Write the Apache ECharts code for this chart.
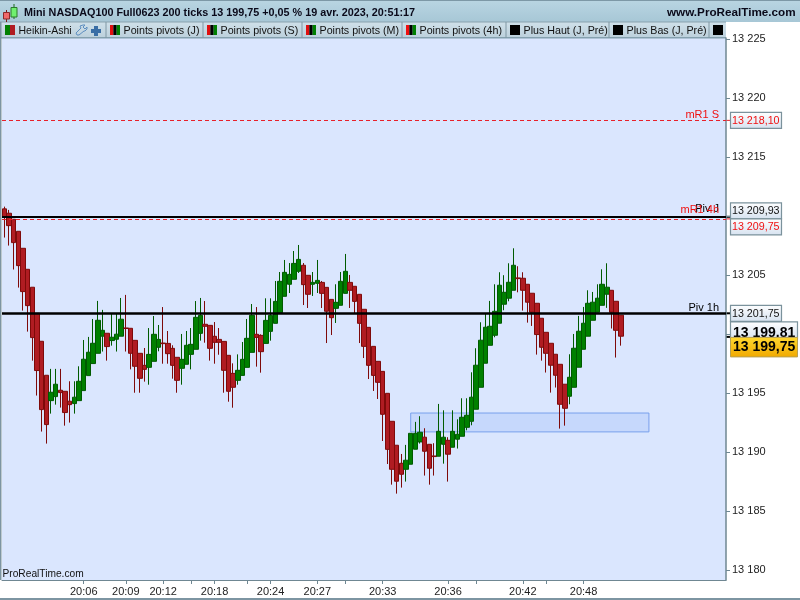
<!DOCTYPE html>
<html><head><meta charset="utf-8">
<style>html,body{margin:0;padding:0;background:#fff}#c{width:800px;height:600px}</style>
<script src="https://cdn.jsdelivr.net/npm/echarts@6/dist/echarts.min.js"></script>
</head><body><div id="c"></div>
<script>
const opens=[13210.60,13210.23,13209.72,13208.70,13207.26,13205.48,13203.96,13201.75,13199.38,13196.50,
13194.35,13194.69,13195.23,13195.14,13194.30,13194.10,13194.35,13195.20,13196.47,13197.49,
13198.36,13199.81,13200.06,13199.44,13199.55,13199.81,13200.51,13200.48,13199.46,13198.36,
13197.34,13197.17,13197.68,13198.87,13199.23,13199.20,13198.78,13198.02,13197.09,13197.43,
13198.27,13198.70,13200.05,13200.82,13200.73,13199.80,13199.54,13199.37,13198.19,13196.66,
13196.07,13196.49,13197.17,13198.44,13199.97,13199.88,13199.20,13200.22,13200.90,13201.80,
13203.19,13204.21,13204.63,13205.31,13205.82,13204.97,13204.21,13204.29,13204.37,13203.95,
13202.93,13202.17,13202.43,13203.44,13204.37,13204.04,13203.36,13202.09,13200.56,13198.95,
13197.68,13196.83,13194.97,13192.60,13190.57,13189.04,13188.53,13188.96,13190.23,13190.85,
13191.25,13190.65,13189.66,13189.64,13190.65,13190.99,13190.40,13191.08,13191.33,13192.09,
13192.60,13193.62,13195.48,13197.52,13199.04,13199.89,13200.91,13202.52,13203.03,13203.70,
13204.75,13204.72,13204.21,13203.45,13202.60,13201.33,13200.14,13199.21,13198.28,13197.43,
13195.74,13194.72,13195.48,13197.18,13198.70,13199.81,13201.16,13201.84,13202.43,13203.37,
13203.70,13202.77,13201.59];
const closes=[13209.95,13209.18,13207.74,13205.79,13203.59,13202.40,13199.69,13196.90,13193.59,13192.32,
13195.06,13195.74,13195.03,13193.34,13194.01,13194.64,13195.99,13197.86,13198.45,13199.21,
13201.16,13200.31,13198.93,13199.72,13199.98,13201.25,13200.46,13198.36,13197.26,13196.24,
13197.00,13198.27,13199.97,13199.54,13199.18,13198.33,13197.34,13196.07,13197.85,13199.04,
13199.12,13201.41,13201.58,13200.65,13198.78,13199.29,13199.29,13196.92,13195.14,13195.48,
13196.92,13197.85,13199.63,13201.58,13199.71,13198.50,13201.15,13201.58,13202.76,13204.46,
13205.22,13205.05,13205.98,13206.32,13204.18,13203.36,13204.37,13204.54,13203.44,13201.92,
13201.38,13202.68,13204.46,13205.31,13203.70,13202.76,13200.90,13198.95,13197.34,13196.49,
13195.90,13193.19,13190.22,13188.53,13187.52,13188.11,13189.30,13191.58,13191.58,13191.67,
13190.06,13188.62,13189.61,13191.75,13191.25,13189.81,13191.75,13191.50,13192.94,13193.11,
13194.64,13197.35,13199.47,13200.57,13200.65,13201.92,13204.13,13203.53,13204.38,13205.82,
13204.69,13203.70,13202.69,13201.84,13199.95,13198.87,13198.36,13197.35,13196.50,13194.04,
13193.70,13196.33,13198.79,13200.23,13200.91,13202.60,13202.69,13203.03,13204.21,13203.96,
13201.84,13200.31,13199.81];
const lows=[13208.17,13207.49,13205.46,13203.93,13201.98,13200.20,13197.74,13194.78,13191.73,13190.71,
13193.25,13194.01,13193.76,13192.23,13192.49,13193.25,13194.35,13195.20,13196.47,13197.49,
13198.36,13198.51,13197.74,13199.01,13198.51,13199.81,13198.51,13197.00,13195.02,13195.02,
13195.96,13195.70,13197.68,13198.53,13197.48,13197.48,13196.21,13195.02,13195.70,13197.43,
13197.00,13198.70,13199.43,13199.26,13197.74,13197.48,13198.24,13195.02,13194.26,13193.75,
13195.70,13196.49,13197.17,13198.44,13197.23,13196.72,13199.20,13199.43,13200.90,13201.80,
13203.19,13203.47,13204.63,13205.17,13202.45,13202.20,13203.22,13203.47,13202.20,13199.23,
13199.91,13200.93,13202.43,13203.44,13202.20,13201.75,13199.23,13197.96,13196.18,13195.17,
13194.49,13190.93,13188.98,13187.23,13186.47,13186.98,13187.49,13188.96,13190.23,13190.71,
13188.00,13187.23,13188.00,13189.64,13189.01,13187.49,13190.40,13190.29,13191.33,13191.84,
13192.26,13193.62,13195.48,13197.52,13199.04,13199.72,13200.91,13202.01,13202.77,13203.70,
13203.53,13201.98,13200.96,13200.68,13198.25,13197.74,13196.73,13195.03,13195.46,13191.98,
13192.23,13194.04,13195.48,13197.18,13198.70,13199.81,13201.16,13201.84,13202.43,13202.21,
13200.46,13198.00,13199.01];
const highs=[13210.79,13210.51,13209.72,13208.70,13207.26,13205.48,13203.96,13201.75,13199.38,13196.50,
13197.04,13197.04,13197.04,13195.14,13195.99,13195.99,13197.26,13199.49,13199.75,13201.27,
13202.80,13202.04,13200.06,13201.75,13201.75,13203.05,13203.31,13200.48,13199.46,13198.36,
13198.81,13200.50,13201.52,13200.76,13202.28,13200.25,13199.04,13198.02,13200.00,13200.25,
13200.50,13202.79,13203.05,13202.79,13200.73,13201.01,13200.50,13199.37,13198.19,13197.51,
13198.27,13199.32,13201.27,13202.54,13202.28,13199.97,13203.02,13203.02,13204.49,13205.25,
13206.27,13206.01,13207.03,13207.54,13206.01,13204.97,13205.25,13206.27,13204.49,13203.95,
13202.93,13204.21,13205.25,13206.78,13205.00,13204.04,13203.36,13202.09,13200.56,13198.95,
13197.68,13196.83,13194.97,13192.60,13190.57,13189.83,13190.60,13191.58,13192.55,13193.03,
13192.01,13190.65,13190.74,13194.07,13193.53,13191.25,13193.53,13192.77,13194.55,13194.55,
13196.75,13198.79,13200.99,13201.75,13202.80,13204.21,13205.23,13204.98,13205.99,13207.26,
13205.74,13205.23,13204.21,13203.45,13202.60,13201.33,13200.14,13199.21,13198.28,13197.43,
13195.74,13198.28,13200.00,13201.53,13202.29,13203.70,13203.56,13204.21,13205.48,13205.99,
13203.70,13202.77,13201.59];

const slotCount=155;
const tickIndexes=[17,26,34,40,45,52,57,67,73,81,95,101,111,116,124];
const tickLabels=['20:06','20:09','20:12','','20:18','','20:24','20:27','','20:33','20:36','','20:42','','20:48'];
const priceTicks=[13180,13185,13190,13195,13200,13205,13210,13215,13220,13225];
const priceLabelTicks=[13180,13185,13190,13195,13205,13215,13220,13225];

const zoneBounds={fromIndex:87,toIndex:138,top:13193.3,bottom:13191.7};
const levelValues=[13218.10,13209.93,13209.75,13201.75];
const levelNames=['mR1 S','Piv J','mR1 4h','Piv 1h'];
const levelTags=['13 218,10','13 209,93','13 209,75','13 201,75'];
const lastPrice=13199.75, lastClose='13 199.81', lastTag='13 199,75';

const FONT='"Liberation Sans",Arial,sans-serif';
const candleData=opens.map((o,i)=>[o,closes[i],lows[i],highs[i]]);
const cats=Array.from({length:slotCount},(_,i)=>{const k=tickIndexes.indexOf(i);return k>=0&&tickLabels[k]?tickLabels[k]:'s'+i;});
const fmtPrice=v=>String(v).replace(/^(\d\d)(\d{3})$/,'$1 $2');

const lineStyles=[
 {color:'#e8202a',width:1,type:[4,3]},
 {color:'#000',width:2,type:'solid'},
 {color:'#e8202a',width:1,type:[4,3]},
 {color:'#000',width:2.5,type:'solid'}];
const labelColors=['#f01010','#000','#f01010','#000'];
const labelDy=[0,2,3,0];

const chart=echarts.init(document.getElementById('c'),null,{renderer:'canvas'});
chart.setOption({
 animation:false,
 backgroundColor:'#fff',
 grid:{left:2,right:74,top:38,bottom:20,show:true,backgroundColor:'#dae6fe',borderWidth:0},
 xAxis:{type:'category',data:cats,boundaryGap:true,
  axisLine:{show:true,lineStyle:{color:'#6f8792',width:1}},
  axisTick:{show:true,length:4,alignWithLabel:true,interval:i=>tickIndexes.includes(i),lineStyle:{color:'#6f8792'}},
  axisLabel:{interval:0,margin:6,color:'#222',fontFamily:FONT,fontSize:11,
   formatter:(v,i)=>{const k=tickIndexes.indexOf(i);return k>=0?tickLabels[k]:'';}},
  splitLine:{show:false}},
 yAxis:{type:'value',position:'right',min:13179.15,max:13225.08,scale:true,
  axisLine:{show:true,lineStyle:{color:'#6f8792',width:1.5}},
  axisTick:{show:true,length:4,customValues:priceTicks,lineStyle:{color:'#6f8792'}},
  axisLabel:{margin:6,color:'#222',fontFamily:FONT,fontSize:11,hideOverlap:false,customValues:priceLabelTicks,formatter:v=>fmtPrice(v)},
  splitLine:{show:false}},
 series:[{
  type:'candlestick',data:candleData,barWidth:5,
  itemStyle:{color:'#008000',color0:'#b01c22',borderColor:'#005a00',borderColor0:'#7e0a0a',borderWidth:1},
  markArea:{silent:true,itemStyle:{color:'#c6d8fc',borderColor:'#78a0ec',borderWidth:1},
   data:[[{xAxis:zoneBounds.fromIndex,yAxis:zoneBounds.top},{xAxis:zoneBounds.toIndex,yAxis:zoneBounds.bottom}]]},
  markLine:{silent:true,symbol:'none',z:6,
   data:levelValues.map((v,i)=>({yAxis:v,lineStyle:lineStyles[i],
    label:{show:true,position:'insideEndTop',distance:[7,labelDy[i]],formatter:levelNames[i],color:labelColors[i],fontFamily:FONT,fontSize:11}}))}
 }]
});

const Y=v=>chart.convertToPixel({yAxisIndex:0},v);
const plotRight=726;
const rect=(x,y,w,h,fill,extra)=>Object.assign({type:'rect',shape:{x,y,width:w,height:h},style:{fill},silent:true},extra||{});
const text=(x,y,t,o)=>({type:'text',x,y,silent:true,style:Object.assign({text:t,fill:'#000',font:'11px '+FONT,textVerticalAlign:'middle',textBaseline:'middle'},o||{})});
const grad=(a,b)=>new echarts.graphic.LinearGradient(0,0,0,1,[{offset:0,color:a},{offset:1,color:b}]);
const g=[];
g.push(rect(0,0,800,22,grad('#b9d5e2','#a7c7d6')));
g.push(rect(0,0,800,1,'#7d98a6'));
g.push(rect(0,22,plotRight,16,grad('#cfe0e9','#bcd0dc')));
g.push(rect(0,21.5,plotRight,1,'#8aa2ae'));
g.push(rect(0,37,plotRight,1.5,'#84a0ae'));
g.push(rect(0,22,1.5,558,'#7d95a2'));
g.push(rect(0,598,800,2,'#7d95a2'));
g.push(rect(6,10,1,12,'#7a1a1a'));g.push(rect(3.5,12.5,6,6.5,'#f06a6a',{style:{fill:'#f06a6a',stroke:'#8a2a2a',lineWidth:1}}));
g.push(rect(13.5,4,1,15,'#1e6a1e'));g.push(rect(11,7.5,6,9.5,'#70f070',{style:{fill:'#70f070',stroke:'#2a7a2a',lineWidth:1}}));
g.push(text(24,13,'Mini NASDAQ100 Full0623 200 ticks 13 199,75 +0,05 % 19 avr. 2023, 20:51:17',{font:'bold 10.8px '+FONT,fill:'#0a0a1a'}));
g.push(text(667,13,'www.ProRealTime.com',{font:'bold 11.7px '+FONT,fill:'#0a0a1a'}));
[105.5,202.5,301.5,401.5,505.5,608.5,708.5].forEach(x=>g.push(rect(x,22,1,16,'#8098a4')));
const swatch=(x,cols)=>{const w=10/cols.length;cols.forEach((c,i)=>g.push(rect(x+i*w,25,w,10,c)));};
swatch(5,['#008000','#b01c22']);
swatch(110,['#e01010','#000','#008000']);swatch(207,['#e01010','#000','#008000']);
swatch(306,['#e01010','#000','#008000']);swatch(406,['#f01010','#000','#008000']);
swatch(510,['#000']);swatch(613,['#000']);swatch(713,['#000']);
[[18.5,'Heikin-Ashi',10.5],[123.5,'Points pivots (J)',10.7],[220.5,'Points pivots (S)',10.7],[319.5,'Points pivots (M)',10.7],[419.5,'Points pivots (4h)',10.7],[523.5,'Plus Haut (J, Pré)',10.7],[626.5,'Plus Bas (J, Pré)',10.7]]
 .forEach(([x,t,s])=>g.push(text(x,31,t,{font:s+'px '+FONT,fill:'#111'})));
g.push({type:'polyline',silent:true,shape:{points:[[77,35],[76,33],[81,28],[80,26],[83,25],[85,25],[83,27],[85,29],[87,27],[87,29],[85,31],[84,31],[79,35],[77,35]]},style:{fill:'none',stroke:'#5f8fc0',lineWidth:1}});
g.push(rect(91,29,10,4,'#3a6ea5'));g.push(rect(94,26,4,10,'#3a6ea5'));
g.push(text(2.5,574,'ProRealTime.com',{font:'10.2px '+FONT,fill:'#111'}));
levelValues.forEach((v,i)=>{
 const y=Y(v);
 const tagY=i===1?y-14:i===2?y:y-8;
 g.push(rect(plotRight,y-(lineStyles[i].width>1?1:0.5),4,lineStyles[i].width>1?2:1,lineStyles[i].color));
 g.push({type:'rect',silent:true,shape:{x:730.5,y:tagY,width:51,height:16},style:{fill:grad('#ffffff','#d6e2f0'),stroke:'#7b929c',lineWidth:1.2}});
 g.push(text(732,tagY+8.5,levelTags[i],{font:'10.7px '+FONT,fill:labelColors[i]==='#000'?'#111':'#f01010'}));
});
const ly=Y(lastPrice);
g.push(rect(plotRight,ly-1,4,2,'#000'));
g.push({type:'rect',silent:true,shape:{x:730.5,y:ly-15,width:67,height:17},style:{fill:grad('#ffffff','#d6e2f0'),stroke:'#7b929c',lineWidth:1.2}});
g.push(text(733,ly-3.5,lastClose,{font:'bold 14px '+FONT,fill:'#000'}));
g.push({type:'rect',silent:true,shape:{x:730.5,y:ly+0.5,width:67,height:19.5},style:{fill:grad('#ffd930','#f0a800'),stroke:'#b8a050',lineWidth:1}});
g.push(text(733,ly+10.5,lastTag,{font:'bold 14px '+FONT,fill:'#000'}));
chart.setOption({graphic:{elements:g}});
</script></body></html>
